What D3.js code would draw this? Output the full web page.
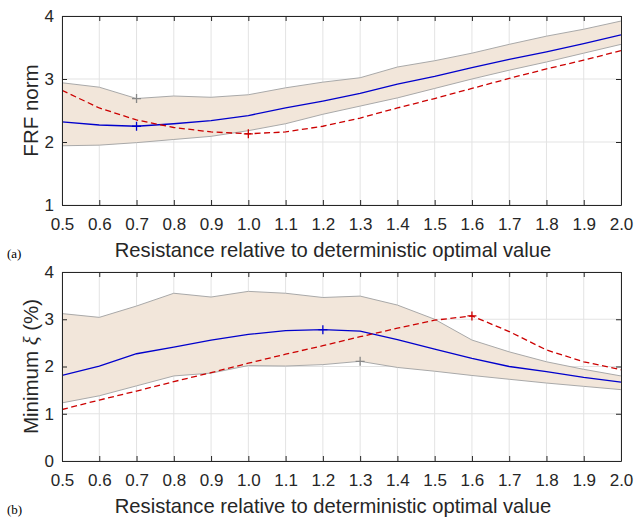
<!DOCTYPE html>
<html><head><meta charset="utf-8">
<script src="https://cdn.jsdelivr.net/npm/d3@7"></script>
<style>
body{margin:0;background:#fff;}
svg{display:block;}
</style></head>
<body>
<svg id="chart" width="635" height="518"></svg>
<script>
const xVals = [0.5,0.6,0.7,0.8,0.9,1.0,1.1,1.2,1.3,1.4,1.5,1.6,1.7,1.8,1.9,2.0];
const xTickLabels = ["0.5","0.6","0.7","0.8","0.9","1.0","1.1","1.2","1.3","1.4","1.5","1.6","1.7","1.8","1.9","2.0"];

// (a) FRF norm
const frfUpper = [2.94,2.87,2.69,2.73,2.71,2.75,2.86,2.95,3.02,3.19,3.29,3.41,3.55,3.68,3.79,3.92];
const frfMean  = [2.32,2.27,2.25,2.29,2.34,2.42,2.54,2.65,2.77,2.92,3.04,3.18,3.31,3.43,3.56,3.70];
const frfLower = [1.94,1.95,1.99,2.04,2.09,2.18,2.29,2.44,2.57,2.70,2.85,3.00,3.14,3.27,3.41,3.55];
const frfDet   = [2.82,2.54,2.35,2.23,2.16,2.13,2.16,2.25,2.38,2.54,2.69,2.85,3.01,3.16,3.30,3.45];
const frfYTicks = [1,2,3,4];

// (b) Minimum damping ratio (%)
const xiUpper = [3.12,3.04,3.28,3.55,3.47,3.59,3.55,3.46,3.49,3.30,3.00,2.56,2.31,2.10,1.94,1.80];
const xiMean  = [1.81,2.01,2.27,2.41,2.56,2.68,2.76,2.78,2.75,2.57,2.37,2.17,2.00,1.89,1.77,1.67];
const xiLower = [1.23,1.38,1.59,1.80,1.86,2.02,2.01,2.04,2.11,1.98,1.90,1.81,1.73,1.65,1.58,1.51];
const xiDet   = [1.09,1.29,1.48,1.68,1.87,2.07,2.26,2.44,2.63,2.81,2.98,3.07,2.74,2.35,2.10,1.93];
const xiYTicks = [0,1,2,3,4];

const xLabel = "Resistance relative to deterministic optimal value";

const SANS = "'Liberation Sans',Arial,Helvetica,sans-serif";
const SERIF = "'Liberation Serif','Times New Roman',serif";

const svg = d3.select("#chart");
const L = 62, R = 621;

function panel(cfg){
  const {top, bottom, yDomain, yTicks, upper, mean, lower, det, ylabel, tag, markers, clipId} = cfg;
  const x = d3.scaleLinear().domain([0.5,2.0]).range([L,R]);
  const y = d3.scaleLinear().domain(yDomain).range([bottom, top]);
  const g = svg.append("g");

  g.append("clipPath").attr("id", clipId).append("rect")
    .attr("x", L).attr("y", top).attr("width", R-L).attr("height", bottom-top);

  // grid
  const grid = g.append("g");
  xVals.forEach(v => grid.append("line").attr("x1", x(v)).attr("x2", x(v)).attr("y1", top).attr("y2", bottom)
    .attr("stroke", "#e3e3e3").attr("stroke-width", 1));
  yTicks.forEach(v => grid.append("line").attr("x1", L).attr("x2", R).attr("y1", y(v)).attr("y2", y(v))
    .attr("stroke", "#e3e3e3").attr("stroke-width", 1));

  const data = xVals.map((v,i) => ({x:v, u:upper[i], m:mean[i], l:lower[i], d:det[i]}));
  const plot = g.append("g").attr("clip-path", `url(#${clipId})`);

  plot.append("path").datum(data)
    .attr("d", d3.area().x(d => x(d.x)).y0(d => y(d.l)).y1(d => y(d.u)))
    .attr("fill", "#f2e6da").attr("stroke", "none");
  plot.append("path").datum(data)
    .attr("d", d3.line().x(d => x(d.x)).y(d => y(d.u)))
    .attr("fill", "none").attr("stroke", "#a9a9a9").attr("stroke-width", 1);
  plot.append("path").datum(data)
    .attr("d", d3.line().x(d => x(d.x)).y(d => y(d.l)))
    .attr("fill", "none").attr("stroke", "#a9a9a9").attr("stroke-width", 1);
  plot.append("path").datum(data)
    .attr("d", d3.line().x(d => x(d.x)).y(d => y(d.m)))
    .attr("fill", "none").attr("stroke", "#0000cc").attr("stroke-width", 1.3);
  plot.append("path").datum(data)
    .attr("d", d3.line().x(d => x(d.x)).y(d => y(d.d)))
    .attr("fill", "none").attr("stroke", "#cc0000").attr("stroke-width", 1.3)
    .attr("stroke-dasharray", "6,3.5");

  // markers (+)
  markers.forEach(mk => {
    const arr = mk.series;
    const idx = mk.type === "min" ? d3.minIndex(arr) : d3.maxIndex(arr);
    const cx = x(xVals[idx]), cy = y(arr[idx]), s = 4.5;
    g.append("path").attr("d", `M${cx-s},${cy}H${cx+s}M${cx},${cy-s}V${cy+s}`)
      .attr("stroke", mk.color).attr("stroke-width", 1.3).attr("fill", "none");
  });

  // axes (box with inside ticks on all sides)
  const tl = 5;
  const axB = d3.axisBottom(x).tickValues(xVals).tickFormat((d,i) => xTickLabels[i]).tickSizeInner(-tl).tickSizeOuter(0).tickPadding(13);
  const axT = d3.axisTop(x).tickValues(xVals).tickFormat("").tickSizeInner(-tl).tickSizeOuter(0);
  const axL = d3.axisLeft(y).tickValues(yTicks).tickFormat(d3.format("d")).tickSizeInner(-tl).tickSizeOuter(0).tickPadding(8);
  const axR = d3.axisRight(y).tickValues(yTicks).tickFormat("").tickSizeInner(-tl).tickSizeOuter(0);
  const style = sel => {
    sel.selectAll("path").attr("stroke", "#262626").attr("stroke-width", 1);
    sel.selectAll("line").attr("stroke", "#262626").attr("stroke-width", 1);
    sel.selectAll("text").style("font-size", "17px").style("fill", "#262626").style("font-family", SANS);
  };
  g.append("g").attr("transform", `translate(0,${bottom})`).call(axB).call(style);
  g.append("g").attr("transform", `translate(0,${top})`).call(axT).call(style);
  g.append("g").attr("transform", `translate(${L},0)`).call(axL).call(style);
  g.append("g").attr("transform", `translate(${R},0)`).call(axR).call(style);

  // x label
  g.append("text").attr("x", 333).attr("y", bottom+52)
    .attr("text-anchor", "middle").style("font-family", SANS).style("font-size", "20.2px")
    .style("fill", "#262626").text(xLabel);

  // y label
  const yl = g.append("text").attr("transform", `translate(37.5,${(top+bottom)/2}) rotate(-90)`)
    .attr("text-anchor", "middle").style("font-family", SANS).style("font-size", "20.5px").style("fill", "#262626");
  ylabel(yl);

  // panel tag
  g.append("text").attr("x", 7).attr("y", bottom+53)
    .style("font-family", SERIF).style("font-size", "13px").style("fill", "#000").text(tag);
}

panel({top:16, bottom:205, yDomain:[1,4], yTicks:frfYTicks,
  upper:frfUpper, mean:frfMean, lower:frfLower, det:frfDet,
  ylabel: t => t.text("FRF norm"), tag:"(a)", clipId:"clipA",
  markers:[{series:frfUpper, type:"min", color:"#888"},
           {series:frfMean, type:"min", color:"#0000cc"},
           {series:frfDet, type:"min", color:"#cc0000"}]});

panel({top:272, bottom:461, yDomain:[0,4], yTicks:xiYTicks,
  upper:xiUpper, mean:xiMean, lower:xiLower, det:xiDet,
  ylabel: t => { t.append("tspan").text("Minimum ");
                 t.append("tspan").style("font-family", SERIF).style("font-style","italic").text("ξ");
                 t.append("tspan").text(" (%)"); },
  tag:"(b)", clipId:"clipB",
  markers:[{series:xiMean, type:"max", color:"#0000cc"},
           {series:xiLower, type:"max", color:"#888"},
           {series:xiDet, type:"max", color:"#cc0000"}]});
</script>
</body></html>
